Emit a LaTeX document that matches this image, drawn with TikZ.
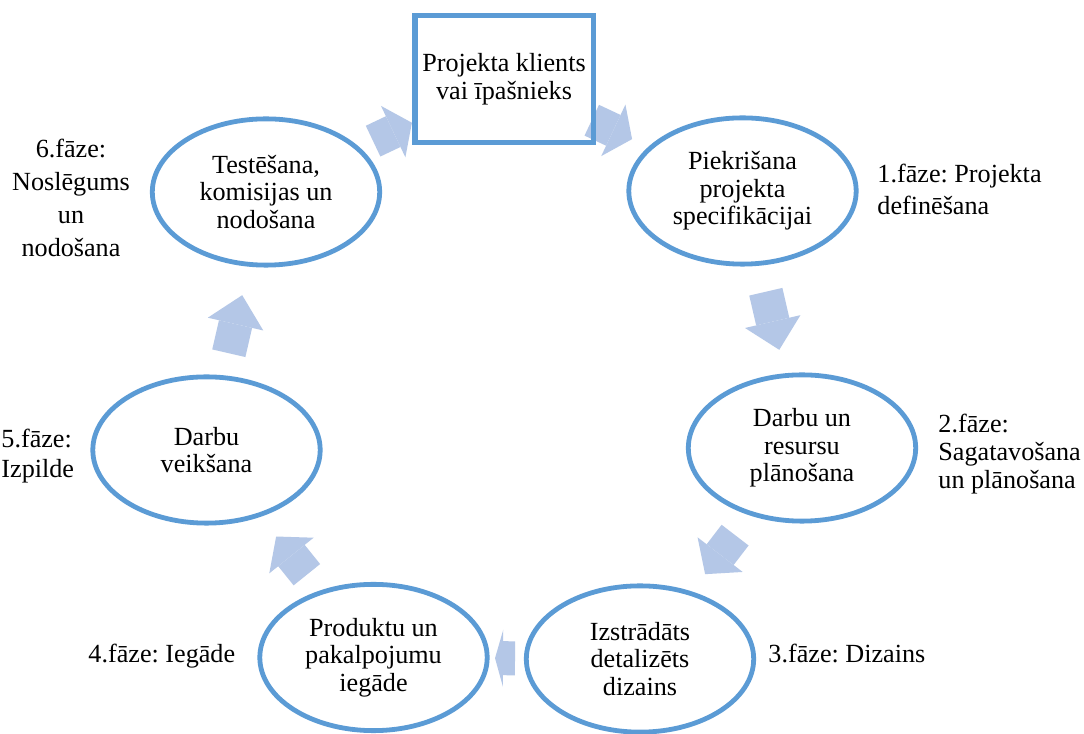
\documentclass[tikz,border=0pt]{standalone}
\usepackage{fontspec}
\setmainfont{Liberation Serif}
\usetikzlibrary{calc}
\usetikzlibrary{arrows.meta}
\usetikzlibrary{shapes.geometric}
\usetikzlibrary{backgrounds}

\definecolor{ringblue}{HTML}{5B9BD5}
\definecolor{arrowblue}{HTML}{B4C7E7}

\tikzset{
    phase/.style={ellipse, draw=ringblue, line width=2.2pt, minimum width=104.3pt, minimum height=67.1pt,
        inner sep=0pt, align=center, font=\fontsize{12pt}{12.6pt}\selectfont},
    phasenote/.style={inner sep=0pt, align=left, font=\fontsize{12pt}{#1}\selectfont},
    phasenote/.default=14pt,
    flow/.style={draw=arrowblue, line width=15.6pt, -{Triangle[width=26.1pt, length=#1, line width=0pt]}}
}

\begin{document}
\frenchspacing
\begin{tikzpicture}[x=0.4587pt, y=-0.4587pt]
    \useasboundingbox (0,0) rectangle (1084,734);
    \node (client) [rectangle, draw=ringblue, line width=2.3pt, minimum width=81.2pt, minimum height=58.3pt,
        align=center, font=\fontsize{12pt}{12.6pt}\selectfont] at (504,79) {
        Projekta klients\\vai īpašnieks
    };
    \node (agreement) [phase] at (742.5,191) {Piekrišana\\projekta\\specifikācijai};
    \node (planning) [phase] at (802,448) {Darbu un\\resursu\\plānošana};
    \node (design) [phase] at (640,659) {Izstrādāts\\detalizēts\\dizains};
    \node (procurement) [phase] at (373.5,657.5) {Produktu un\\pakalpojumu\\iegāde};
    \node (execution) [phase] at (206.5,450) {Darbu\\veikšana};
    \node (testing) [phase] at (266,192) {Testēšana,\\komisijas un\\nodošana};

    \node (phaseone) [phasenote=14.5pt, anchor=north west] at (877,163.8) {1.fāze: Projekta\\definēšana};
    \node (phasetwo) [phasenote=12.7pt, anchor=north west] at (938,413.8) {2.fāze:\\Sagatavošana\\un plānošana};
    \node (phasethree) [phasenote, anchor=base west] at (768,663) {3.fāze: Dizains};
    \node (phasefour) [phasenote, anchor=base west] at (88,663) {4.fāze: Iegāde};
    \node (phasefive) [phasenote=13.8pt, anchor=north west] at (1,429) {5.fāze:\\Izpilde};
    \node (phasesix) [phasenote=15.1pt, align=center, anchor=north] at (71,139) {6.fāze:\\Noslēgums\\un\\nodošana};

    \begin{scope}[on background layer]
        \fill [white] (0,0) rectangle (1084,734);
        \draw [flow=9.5pt] ($(testing)!0.450!(client)$) -- ($(testing)!0.613!(client)$);
        \draw [flow=9.5pt] ($(client)!0.368!(agreement)$) -- ($(client)!0.537!(agreement)$);
        \draw [flow=13.3pt] ($(agreement)!0.392!(planning)$) -- ($(agreement)!0.618!(planning)$);
        \draw [flow=11.3pt] ($(planning)!0.413!(design)$) -- ($(planning)!0.598!(design)$);
        \draw [flow=3.7pt] ($(design)!0.469!(procurement)$) -- ($(design)!0.544!(procurement)$);
        \draw [flow=11.2pt] ($(procurement)!0.399!(execution)$) -- ($(procurement)!0.583!(execution)$);
        \draw [flow=13.6pt] ($(execution)!0.375!(testing)$) -- ($(execution)!0.600!(testing)$);
    \end{scope}
\end{tikzpicture}
\end{document}
